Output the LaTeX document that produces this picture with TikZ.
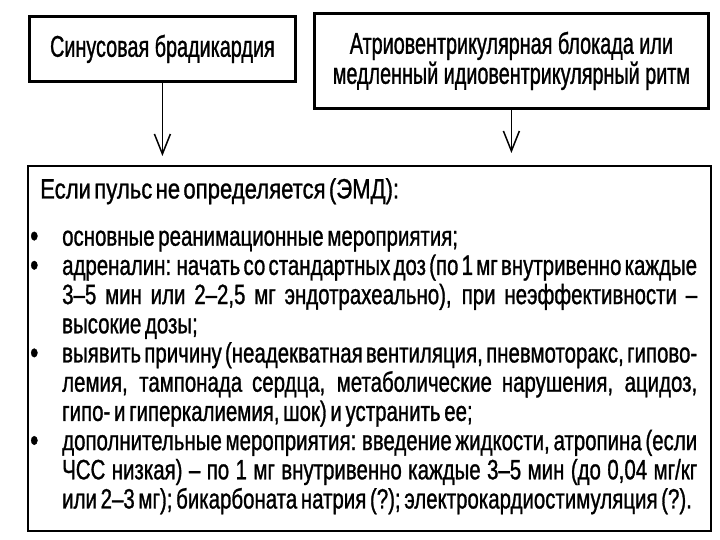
\documentclass[tikz,border=0pt]{standalone}
\usepackage{fontspec}
\setmainfont[FakeStretch=0.73,FakeBold=1,WordSpace=0.65]{Liberation Sans}
\newfontfamily\boxfont[FakeStretch=0.66,FakeBold=1]{Liberation Sans}
\newfontfamily\headfont[FakeStretch=0.79,FakeBold=1,WordSpace=0.8]{Liberation Sans}
\usetikzlibrary{arrows.meta}
\newcommand\jline[1]{\makebox[635pt][s]{#1}}
\newcommand\bul{\makebox[32pt][l]{{\fontsize{32}{32}\selectfont\raisebox{-1pt}{•}}}}
\newcommand\ind{\hspace*{32pt}}
\begin{document}
\begin{tikzpicture}[x=1pt,y=-1pt,
  boxst/.style={draw,line width=2.8pt,inner sep=0pt,align=center,
    font=\boxfont\fontsize{30}{30}\selectfont},
  arr/.style={line width=1.5pt,-{Straight Barb[length=20pt,width=16pt]}},
  bodytext/.style={inner sep=0pt,align=left,font=\fontsize{28}{29.2}\selectfont}]
\useasboundingbox (0,0) rectangle (720,540);
\node[boxst,anchor=north west,minimum width=266pt,minimum height=65pt] (b1) at (28,15)
  {Синусовая брадикардия};
\node[boxst,anchor=north west,minimum width=394pt,minimum height=95pt] (b2) at (313,12)
  {Атриовентрикулярная блокада или\\медленный идиовентрикулярный ритм};
\node[draw,line width=2.4pt,anchor=north west,minimum width=683pt,minimum height=365pt,inner sep=0pt] (m) at (27,165) {};
\node[bodytext,anchor=north west] (t) at (30,178) {%
\hspace*{10pt}{\headfont\makebox[353pt][s]{Если пульс не определяется (ЭМД):}}\\[18pt]
\bul основные реанимационные мероприятия;\\
\bul\jline{адреналин: начать со стандартных доз (по 1 мг внутривенно каждые}\\
\ind\jline{3–5 мин или 2–2,5 мг эндотрахеально), при неэффективности –}\\
\ind высокие дозы;\\
\bul\jline{выявить причину (неадекватная вентиляция, пневмоторакс, гипово-}\\
\ind\jline{лемия, тампонада сердца, метаболические нарушения, ацидоз,}\\
\ind гипо- и гиперкалиемия, шок) и устранить ее;\\
\bul\jline{дополнительные мероприятия: введение жидкости, атропина (если}\\
\ind\jline{ЧСС низкая) – по 1 мг внутривенно каждые 3–5 мин (до 0,04 мг/кг}\\
\ind или 2–3 мг); бикарбоната натрия (?); электрокардиостимуляция (?).};
\draw[arr,shorten >=9pt] (b1.south) -- (b1.south |- m.north);
\draw[arr,shorten >=12pt] (b2.south) -- (b2.south |- m.north);
\end{tikzpicture}
\end{document}
